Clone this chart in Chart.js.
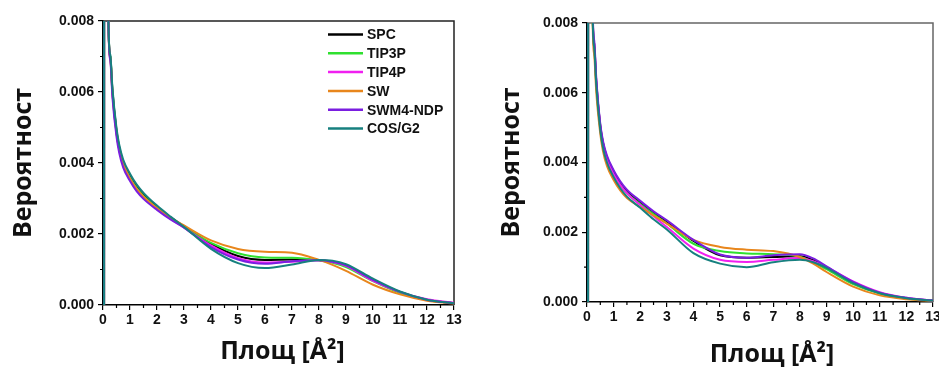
<!DOCTYPE html>
<html>
<head>
<meta charset="utf-8">
<script src="https://cdn.jsdelivr.net/npm/chart.js@4.4.1/dist/chart.umd.min.js"></script>
<style>
  html, body { margin: 0; padding: 0; background: #fff; overflow: hidden; width: 939px; height: 367px; }
  .box { position: absolute; top: 0; height: 367px; }
  #left { left: 0; width: 470px; }
  #right { left: 470px; width: 480px; }
</style>
</head>
<body>
<div class="box" id="left"><canvas id="chartLeft" width="470" height="367"></canvas></div>
<div class="box" id="right"><canvas id="chartRight" width="480" height="367"></canvas></div>
<script>
// water models and line colours
const models = ['SPC', 'TIP3P', 'TIP4P', 'SW', 'SWM4-NDP', 'COS/G2'];
const modelColors = ['#000000', '#2fe02f', '#f020f0', '#e8861c', '#7a1ee0', '#17807f'];

// area [Å²]
const areaX = [0, 0.04, 0.05, 0.2, 0.27, 0.35, 0.5, 0.6, 0.75, 1, 1.25, 1.5, 2, 2.5, 3, 4, 5, 6, 7, 8, 8.5, 9, 10, 11, 12, 13];

// left panel
const leftSPC   = [0, 0, 0.06, 0.0080, 0.00700, 0.00605, 0.00492, 0.00445, 0.00402, 0.00362, 0.00332, 0.00310, 0.00276, 0.00247, 0.00222, 0.00172, 0.00138, 0.00127, 0.00128, 0.00126, 0.00121, 0.00110, 0.00070, 0.00036, 0.00014, 0.00005];
const leftTIP3P = [0, 0, 0.06, 0.0080, 0.00700, 0.00600, 0.00488, 0.00441, 0.00399, 0.00359, 0.00329, 0.00307, 0.00274, 0.00245, 0.00220, 0.00175, 0.00146, 0.00134, 0.00133, 0.00126, 0.00119, 0.00107, 0.00067, 0.00034, 0.00014, 0.00005];
const leftTIP4P = [0, 0, 0.06, 0.0080, 0.00695, 0.00595, 0.00484, 0.00438, 0.00396, 0.00356, 0.00326, 0.00304, 0.00271, 0.00243, 0.00218, 0.00168, 0.00132, 0.00120, 0.00122, 0.00126, 0.00121, 0.00110, 0.00068, 0.00037, 0.00016, 0.00006];
const leftSW    = [0, 0, 0.06, 0.0080, 0.00695, 0.00595, 0.00484, 0.00438, 0.00396, 0.00356, 0.00327, 0.00305, 0.00273, 0.00246, 0.00224, 0.00182, 0.00158, 0.00150, 0.00147, 0.00127, 0.00113, 0.00096, 0.00057, 0.00030, 0.00012, 0.00004];
const leftSWM4  = [0, 0, 0.06, 0.0080, 0.00690, 0.00585, 0.00474, 0.00429, 0.00387, 0.00349, 0.00320, 0.00299, 0.00268, 0.00241, 0.00218, 0.00163, 0.00128, 0.00116, 0.00123, 0.00126, 0.00122, 0.00112, 0.00071, 0.00037, 0.00015, 0.00005];
const leftCOS   = [0, 0, 0.06, 0.0080, 0.00705, 0.00610, 0.00498, 0.00452, 0.00409, 0.00370, 0.00339, 0.00316, 0.00280, 0.00249, 0.00220, 0.00158, 0.00118, 0.00104, 0.00114, 0.00127, 0.00125, 0.00115, 0.00074, 0.00038, 0.00015, 0.00005];

// right panel
const rightSPC   = [0, 0, 0.06, 0.0089, 0.0074, 0.0063, 0.00505, 0.00457, 0.00415, 0.00374, 0.00342, 0.00318, 0.00286, 0.00256, 0.00230, 0.00175, 0.00134, 0.00127, 0.00129, 0.00131, 0.00120, 0.00100, 0.00055, 0.00026, 0.00010, 0.00004];
const rightTIP3P = [0, 0, 0.06, 0.0088, 0.0073, 0.0062, 0.00498, 0.00450, 0.00407, 0.00366, 0.00335, 0.00312, 0.00281, 0.00252, 0.00225, 0.00167, 0.00146, 0.00139, 0.00137, 0.00130, 0.00114, 0.00094, 0.00051, 0.00024, 0.00010, 0.00004];
const rightTIP4P = [0, 0, 0.06, 0.0089, 0.0074, 0.0063, 0.00502, 0.00453, 0.00410, 0.00368, 0.00336, 0.00312, 0.00278, 0.00246, 0.00215, 0.00153, 0.00121, 0.00115, 0.00121, 0.00126, 0.00117, 0.00100, 0.00059, 0.00028, 0.00012, 0.00004];
const rightSW    = [0, 0, 0.06, 0.0086, 0.0071, 0.0060, 0.00482, 0.00433, 0.00390, 0.00350, 0.00320, 0.00298, 0.00272, 0.00248, 0.00225, 0.00178, 0.00158, 0.00150, 0.00146, 0.00129, 0.00110, 0.00086, 0.00044, 0.00019, 0.00008, 0.00003];
const rightSWM4  = [0, 0, 0.06, 0.0090, 0.0075, 0.0064, 0.00510, 0.00462, 0.00420, 0.00378, 0.00346, 0.00322, 0.00290, 0.00260, 0.00234, 0.00178, 0.00136, 0.00127, 0.00134, 0.00137, 0.00125, 0.00102, 0.00058, 0.00027, 0.00012, 0.00004];
const rightCOS   = [0, 0, 0.06, 0.0088, 0.0073, 0.0062, 0.00492, 0.00443, 0.00400, 0.00358, 0.00326, 0.00302, 0.00270, 0.00237, 0.00208, 0.00140, 0.00110, 0.00100, 0.00114, 0.00121, 0.00114, 0.00098, 0.00054, 0.00025, 0.00011, 0.00004];

const xTitle = 'Площ [Å²]';
const yTitle = 'Вероятност';

const tickFont = { family: 'Liberation Sans', size: 14, weight: 'bold' };
const titleFont = { family: 'Open Sans', size: 25, weight: 'bold', lineHeight: 1 };

// frame, minor ticks, x title and the in-plot legend
const framePlugin = {
  id: 'frame',
  beforeDatasetsDraw(chart, args, opts) {
    const { ctx, chartArea: a, scales: { x, y } } = chart;
    ctx.save();
    ctx.strokeStyle = opts.color;
    ctx.lineWidth = 1.5;
    ctx.beginPath();
    ctx.moveTo(a.left, a.top);
    ctx.lineTo(a.right, a.top);
    ctx.lineTo(a.right, a.bottom);
    ctx.stroke();
    ctx.strokeStyle = '#000';
    ctx.lineWidth = 1.2;
    ctx.beginPath();
    for (let v = 0.5; v < 13; v += 1) {
      const px = x.getPixelForValue(v);
      ctx.moveTo(px, a.bottom);
      ctx.lineTo(px, a.bottom + 3);
    }
    for (let v = 0.001; v < 0.008; v += 0.002) {
      const py = y.getPixelForValue(v);
      ctx.moveTo(a.left, py);
      ctx.lineTo(a.left - 3, py);
    }
    ctx.stroke();
    ctx.restore();
  },
  afterDraw(chart, args, opts) {
    const { ctx, chartArea: a } = chart;
    ctx.save();
    // x axis title, set a little right of the plot centre as in the source
    ctx.font = 'bold 25px "Open Sans"';
    ctx.fillStyle = '#111';
    ctx.textAlign = 'center';
    ctx.textBaseline = 'middle';
    ctx.fillText(xTitle, (a.left + a.right) / 2 + opts.titleShift, opts.titleY);
    if (opts.legend) {
      ctx.font = 'bold 14px "Liberation Sans"';
      ctx.textAlign = 'left';
      chart.data.datasets.forEach((ds, i) => {
        const yy = 34.5 + i * 18.8;
        ctx.strokeStyle = ds.borderColor;
        ctx.lineWidth = 2.5;
        ctx.beginPath();
        ctx.moveTo(328, yy);
        ctx.lineTo(363, yy);
        ctx.stroke();
        ctx.fillStyle = '#111';
        ctx.fillText(ds.label, 367, yy + 1);
      });
    }
    ctx.restore();
  }
};

function makeChart(id, series, box) {
  const datasets = models.map((name, i) => ({
    label: name,
    data: areaX.map((xv, k) => ({ x: xv, y: series[i][k] })),
    borderColor: modelColors[i],
    borderWidth: 2,
    pointRadius: 0,
    cubicInterpolationMode: 'monotone',
    order: models.length - i
  }));
  return new Chart(document.getElementById(id), {
    type: 'line',
    data: { datasets },
    plugins: [framePlugin],
    options: {
      responsive: false,
      animation: false,
      layout: { padding: { top: box.padTop, right: box.padRight, left: 0, bottom: 0 } },
      plugins: {
        legend: { display: false },
        tooltip: { enabled: false },
        frame: { color: box.frameColor, legend: box.legend, titleShift: box.titleShift, titleY: box.titleY }
      },
      scales: {
        x: {
          type: 'linear', min: 0, max: 13,
          afterFit(s) { s.height = box.xHeight; },
          grid: { drawOnChartArea: false, tickLength: 5, color: '#000', lineWidth: 1.2 },
          border: { color: '#000', width: 1.5 },
          ticks: { stepSize: 1, font: tickFont, color: '#111', padding: 2, maxRotation: 0, autoSkip: false }
        },
        y: {
          min: 0, max: 0.008,
          afterFit(s) { s.width = box.yWidth; },
          grid: { drawOnChartArea: false, tickLength: 5, color: '#000', lineWidth: 1.2 },
          border: { color: '#000', width: 1.5 },
          ticks: { stepSize: 0.002, font: tickFont, color: '#111', padding: 4, callback: v => v.toFixed(3) },
          title: { display: true, text: yTitle, font: titleFont, color: '#111', padding: { top: box.yTitlePad, bottom: 0 } }
        }
      }
    }
  });
}

makeChart('chartLeft', [leftSPC, leftTIP3P, leftTIP4P, leftSW, leftSWM4, leftCOS],
  { padTop: 21, padRight: 16, xHeight: 62, yWidth: 103, yTitlePad: 11, frameColor: '#222', legend: true, titleShift: 4, titleY: 352 });
makeChart('chartRight', [rightSPC, rightTIP3P, rightTIP4P, rightSW, rightSWM4, rightCOS],
  { padTop: 23, padRight: 17, xHeight: 65, yWidth: 117, yTitlePad: 29, frameColor: '#666', legend: false, titleShift: 12, titleY: 355 });
</script>
</body>
</html>
